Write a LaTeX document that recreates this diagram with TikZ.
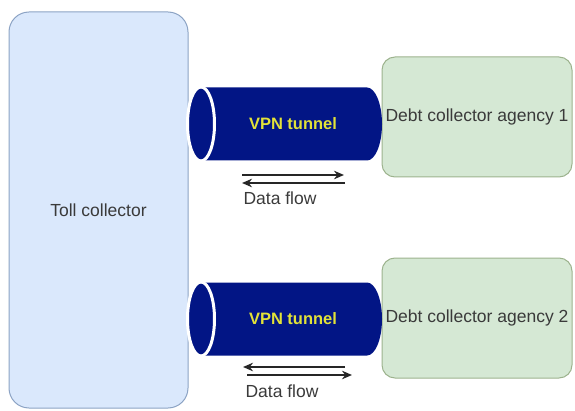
\documentclass[tikz,border=0pt]{standalone}
\usepackage{fontspec}
\setmainfont{Liberation Sans}
\usetikzlibrary{arrows.meta}
\definecolor{tollfill}{HTML}{DAE8FC}
\definecolor{tolldraw}{HTML}{8CA3C4}
\definecolor{agencyfill}{HTML}{D5E8D4}
\definecolor{agencydraw}{HTML}{9DB38E}
\definecolor{tunnelblue}{HTML}{021585}
\definecolor{vpnyellow}{HTML}{E2E238}
\definecolor{textgrey}{HTML}{3A3A3A}
\definecolor{flowgrey}{HTML}{262626}

\begin{document}
\begin{tikzpicture}[
    x=1pt, y=1pt,
    every node/.style={font=\fontsize{17.5}{20}\selectfont, text=textgrey, inner sep=0pt},
    box/.style={line width=1pt, rounded corners=#1},
    tunnel/.style={fill=tunnelblue},
    tunnellabel/.style={font=\bfseries\fontsize{16.5}{20}\selectfont, text=vpnyellow},
    flow/.style={-{Stealth[length=10pt, width=8.5pt]}, line width=1.8pt, draw=flowgrey}
]
   \useasboundingbox (0,0) rectangle (575,410);

   % Boxes
   \node[box=20pt, draw=tolldraw, fill=tollfill, minimum width=179pt, minimum height=396pt] (toll) at (98.5,200) {Toll collector};
   \node[box=13pt, draw=agencydraw, fill=agencyfill, minimum width=190pt, minimum height=120pt] (agency1) at (477,293) {Debt collector agency 1};
   \node[box=13pt, draw=agencydraw, fill=agencyfill, minimum width=190pt, minimum height=120pt] (agency2) at (477,92) {Debt collector agency 2};

   % Tunnels
   \foreach \c/\n in {286/1, 91/2} {
      \fill[tunnel] (201,\c+36.5) -- (367,\c+36.5) arc[start angle=90, end angle=-90, x radius=15, y radius=36.5] -- (201,\c-36.5) -- cycle;
      \draw[tunnel, draw=white, line width=3pt] (201,\c) ellipse [x radius=13.5, y radius=37];
      \node[tunnellabel] (vpn\n) at (293,\c) {VPN tunnel};
   }

   % Data flow
   \coordinate (a1) at (242,235);
   \coordinate (b1) at (344,235);
   \coordinate (c1) at (345,227);
   \coordinate (d1) at (242,227);
   \draw[flow] (a1) -- (b1);
   \draw[flow] (c1) -- (d1);
   \node (flow1) at (280,212) {Data flow};

   \coordinate (a2) at (345,43);
   \coordinate (b2) at (243,43);
   \coordinate (c2) at (247,35);
   \coordinate (d2) at (352,35);
   \draw[flow] (a2) -- (b2);
   \draw[flow] (c2) -- (d2);
   \node (flow2) at (282,19) {Data flow};
\end{tikzpicture}
\end{document}
